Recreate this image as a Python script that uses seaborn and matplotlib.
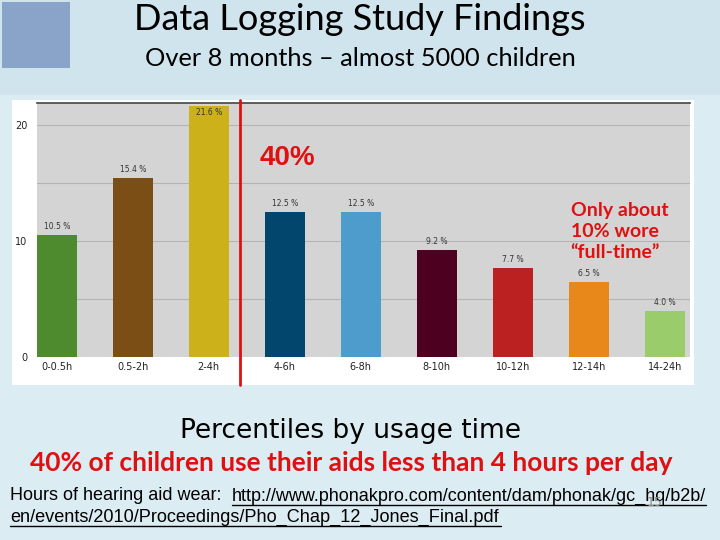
import matplotlib
matplotlib.use('Agg')
import matplotlib.pyplot as plt
from matplotlib.patches import Rectangle
import seaborn as sns
import pandas as pd

# data
usage = ['0-0.5h', '0.5-2h', '2-4h', '4-6h', '6-8h', '8-10h', '10-12h', '12-14h', '14-24h']
share = [10.5, 15.4, 21.6, 12.5, 12.5, 9.2, 7.7, 6.5, 4.0]
bar_colors = ['#4e8a2e', '#7a4e14', '#ccb11a', '#02466d', '#4e9ccb',
              '#4d0020', '#bb2121', '#e8881b', '#9bcc6b']

df = pd.DataFrame({'usage': usage, 'share': share})

W, H = 720, 540
def fx(px): return px / W
def fy(py): return 1 - py / H

sns.set_style('white')
fig = plt.figure(figsize=(7.2, 5.4), dpi=100)
fig.patch.set_facecolor('#dcecf3')

# header band + logo block
fig.patches.append(Rectangle((0, fy(95)), 1, 95 / H, transform=fig.transFigure,
                             facecolor='#d0e4ed', edgecolor='none', zorder=-3))
fig.patches.append(Rectangle((fx(2), fy(68)), 68 / W, 66 / H, transform=fig.transFigure,
                             facecolor='#8aa3c8', edgecolor='none', zorder=-2))

# white chart panel
fig.patches.append(Rectangle((fx(12), fy(385)), (694 - 12) / W, (385 - 100) / H,
                             transform=fig.transFigure, facecolor='white',
                             edgecolor='none', zorder=-1))

ax = fig.add_axes([fx(37), fy(357), (690 - 37) / W, (357 - 103) / H])
ax.set_facecolor('#d4d4d4')
sns.barplot(data=df, x='usage', y='share', hue='usage', palette=bar_colors,
            legend=False, width=0.53, saturation=1, ax=ax, zorder=3,
            edgecolor='none', linewidth=0)
ax.set_xlim(-0.26, 8.33)
ax.set_ylim(0, 21.9)
ax.set_yticks([0, 10, 20])
for g in [5, 10, 15, 20]:
    ax.axhline(g, color='#b4b4b4', lw=0.8, zorder=1)
for s in ['left', 'right', 'bottom']:
    ax.spines[s].set_visible(False)
ax.spines['top'].set_color('#444444')
ax.spines['top'].set_linewidth(1.2)
ax.tick_params(axis='both', length=0, labelsize=7, colors='#222222')
ax.tick_params(axis='y', pad=7)
ax.set_xlabel('')
ax.set_ylabel('')

for i, v in enumerate(share):
    ax.text(i, v + 0.35 if v < 21 else v - 0.95, f'{v:.1f} %', ha='center',
            va='bottom', fontsize=5.5, color='#333333', zorder=4)

# red divider after 2-4h
ax.axvline(2.41, ymin=-0.11, ymax=1.01, color='#e01010', lw=2, clip_on=False, zorder=5)

ax.text(2.67, 17.2, '40%', color='#e01010', fontsize=20, fontweight='bold',
        family='Liberation Sans', va='center', zorder=6)
ax.text(6.76, 13.4, 'Only about\n10% wore\n\u201cfull-time\u201d', color='#e01010',
        fontsize=14, fontweight='bold', family='Lato', linespacing=1.3,
        va='top', zorder=6)

# slide text
fig.text(0.5, fy(20), 'Data Logging Study Findings', ha='center', va='center',
         fontsize=26, family='Lato', color='black')
fig.text(0.5, fy(58), 'Over 8 months \u2013 almost 5000 children', ha='center',
         va='center', fontsize=18.3, family='Lato', color='black')
fig.text(fx(351), fy(431), 'Percentiles by usage time', ha='center', va='center',
         fontsize=19, family='DejaVu Sans', color='black')
fig.text(fx(351), fy(463), '40% of children use their aids less than 4 hours per day',
         ha='center', va='center', fontsize=19, family='Lato', fontweight='bold',
         color='#e01010')
fig.text(fx(10), fy(496), 'Hours of hearing aid wear: ', ha='left', va='center',
         fontsize=13, family='Liberation Sans', color='black')
fig.text(fx(232), fy(496), 'http://www.phonakpro.com/content/dam/phonak/gc_hq/b2b/',
         ha='left', va='center', fontsize=13, family='Liberation Sans', color='black')
fig.text(fx(10), fy(517), 'en/events/2010/Proceedings/Pho_Chap_12_Jones_Final.pdf',
         ha='left', va='center', fontsize=13.1, family='Liberation Sans', color='black')
fig.add_artist(plt.Line2D([fx(232), fx(706)], [fy(505), fy(505)],
                          transform=fig.transFigure, color='black', lw=1))
fig.add_artist(plt.Line2D([fx(10), fx(501)], [fy(526), fy(526)],
                          transform=fig.transFigure, color='black', lw=1))
fig.text(fx(655), fy(503), '15', ha='center', va='center', fontsize=9,
         color='#888888', family='DejaVu Sans')

fig.savefig('out.png', dpi=100)
